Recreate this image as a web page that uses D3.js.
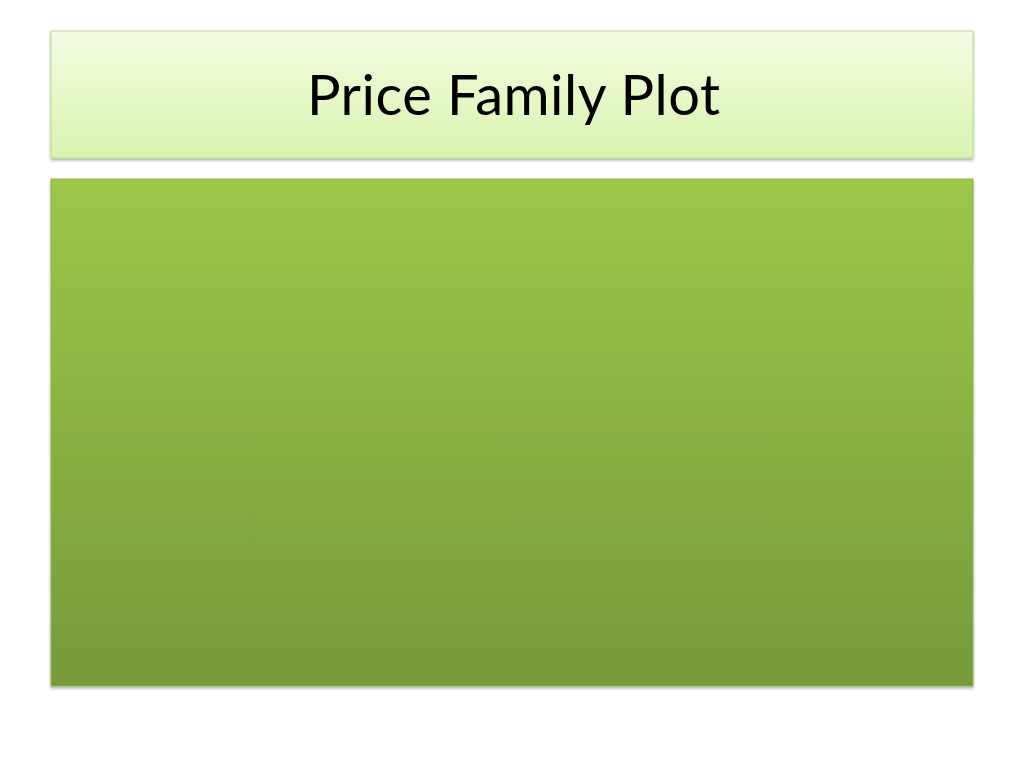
<!DOCTYPE html>
<html><head><meta charset="utf-8">
<script src="https://cdn.jsdelivr.net/npm/d3@7/dist/d3.min.js"></script>
<style>html,body{margin:0;padding:0;background:#fff;}</style>
</head><body>
<script>
const titleText = "Price Family Plot";
const panels = ["title", "content"];

const W = 1024, H = 768;
const svg = d3.select("body").append("svg").attr("width", W).attr("height", H);
const defs = svg.append("defs");

const gT = defs.append("linearGradient").attr("id","gT").attr("x1",0).attr("y1",0).attr("x2",0).attr("y2",1);
gT.append("stop").attr("offset","0%").attr("stop-color","#f2fce2");
gT.append("stop").attr("offset","100%").attr("stop-color","#d9f4ae");
const gC = defs.append("linearGradient").attr("id","gC").attr("x1",0).attr("y1",0).attr("x2",0).attr("y2",1);
gC.append("stop").attr("offset","0%").attr("stop-color","#9cc74a");
gC.append("stop").attr("offset","100%").attr("stop-color","#779a3a");
const f = defs.append("filter").attr("id","sh").attr("x","-5%").attr("y","-5%").attr("width","110%").attr("height","115%");
f.append("feDropShadow").attr("dx",0).attr("dy",2).attr("stdDeviation",1.5).attr("flood-color","#000").attr("flood-opacity",0.3);

const boxes = {title:{x:51,y:31,w:922,h:127,fill:"url(#gT)",stroke:"#b8dc8c"},
               content:{x:51,y:179,w:922,h:507,fill:"url(#gC)",stroke:"#8fb648"}};
panels.forEach(p => {
  const b = boxes[p];
  svg.append("rect").attr("x",b.x).attr("y",b.y).attr("width",b.w).attr("height",b.h)
    .attr("fill",b.fill).attr("stroke",b.stroke).attr("stroke-width",1).attr("filter","url(#sh)");
});

svg.append("text").attr("x",307).attr("y",115).attr("text-anchor","start")
  .attr("font-family","Lato, 'Open Sans', sans-serif").attr("font-size",56).attr("fill","#000")
  .attr("textLength",413).attr("lengthAdjust","spacing")
  .text(titleText);
</script>
</body></html>
